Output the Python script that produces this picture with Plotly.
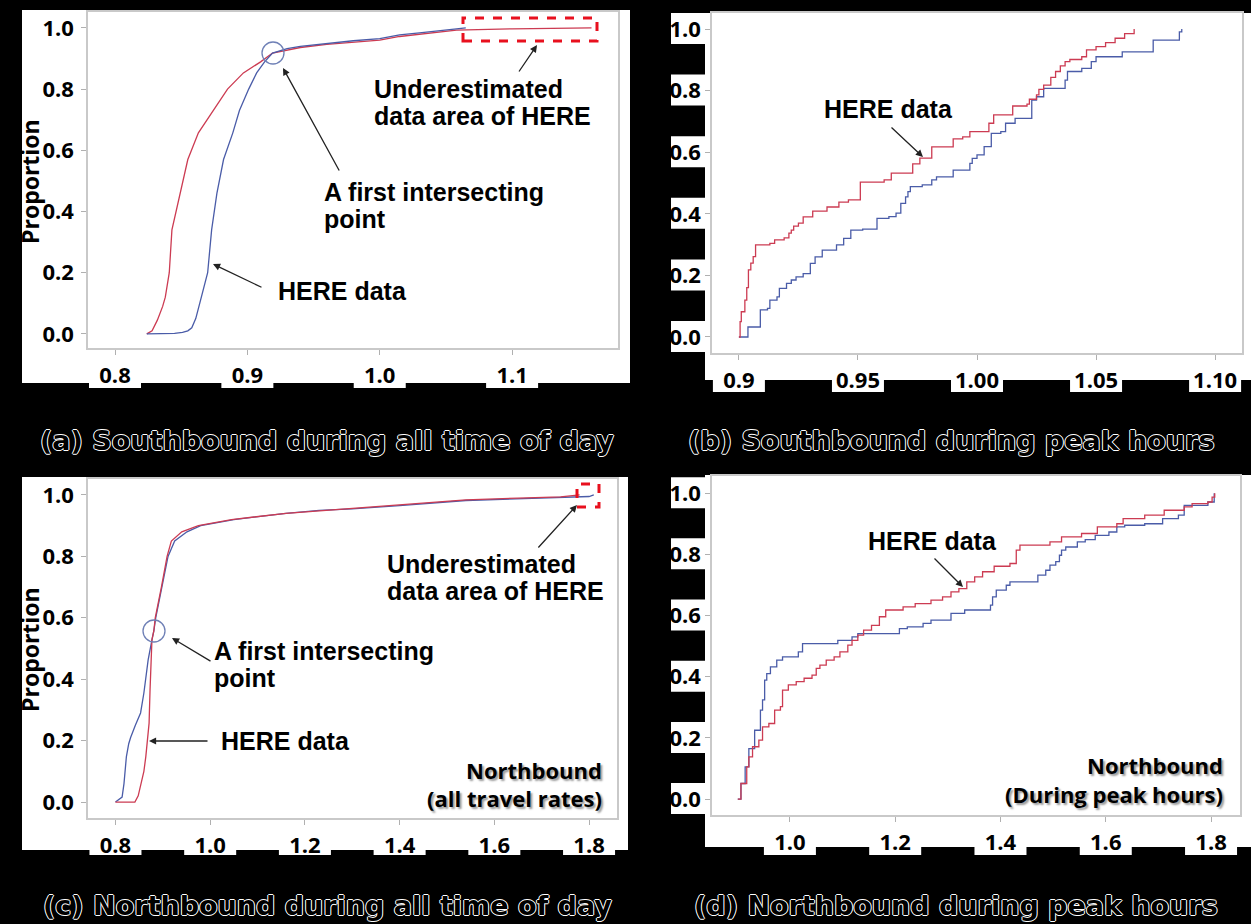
import plotly.graph_objects as go

W, H = 1251, 924

# ---------------- data ----------------
y_ticks = [0.0, 0.2, 0.4, 0.6, 0.8, 1.0]
y_tick_text = ["0.0", "0.2", "0.4", "0.6", "0.8", "1.0"]

a_xticks = [0.8, 0.9, 1.0, 1.1]
a_xtext = ["0.8", "0.9", "1.0", "1.1"]
b_xticks = [0.9, 0.95, 1.0, 1.05, 1.1]
b_xtext = ["0.9", "0.95", "1.00", "1.05", "1.10"]
c_xticks = [0.8, 1.0, 1.2, 1.4, 1.6, 1.8]
c_xtext = ["0.8", "1.0", "1.2", "1.4", "1.6", "1.8"]
d_xticks = [1.0, 1.2, 1.4, 1.6, 1.8]
d_xtext = ["1.0", "1.2", "1.4", "1.6", "1.8"]

# (a) Southbound, all time of day
a_blue_x = [0.824, 0.835, 0.845, 0.851, 0.855, 0.858, 0.861, 0.864, 0.867, 0.870, 0.873, 0.877,
            0.882, 0.889, 0.894, 0.901, 0.907, 0.913, 0.919, 0.930, 0.940, 0.960, 0.980, 1.000,
            1.015, 1.030, 1.045, 1.058, 1.065]
a_blue_y = [0.0, 0.0, 0.002, 0.005, 0.01, 0.02, 0.05, 0.10, 0.15, 0.20, 0.34, 0.46,
            0.57, 0.657, 0.73, 0.80, 0.853, 0.889, 0.918, 0.932, 0.940, 0.950, 0.958, 0.965,
            0.977, 0.984, 0.990, 0.995, 1.0]
a_red_x = [0.824, 0.828, 0.832, 0.836, 0.838, 0.841, 0.843, 0.849, 0.855, 0.863, 0.874, 0.885,
           0.897, 0.910, 0.919, 0.930, 0.940, 0.960, 0.980, 1.000, 1.015, 1.030, 1.045, 1.058,
           1.100, 1.160]
a_red_y = [0.0, 0.01, 0.045, 0.09, 0.12, 0.20, 0.34, 0.46, 0.57, 0.657, 0.73, 0.80,
           0.853, 0.889, 0.918, 0.928, 0.936, 0.946, 0.953, 0.960, 0.972, 0.980, 0.987, 0.993,
           0.997, 1.0]

# (b) Southbound, peak hours (step ECDF)
b_red_x = [0.900, 0.9005, 0.901, 0.9025, 0.9033, 0.904, 0.905, 0.906, 0.907, 0.913, 0.915, 0.919,
           0.921, 0.922, 0.923, 0.925, 0.927, 0.931, 0.937, 0.942, 0.946, 0.951, 0.961, 0.964,
           0.973, 0.976, 0.981, 0.990, 0.994, 0.997, 1.005, 1.007, 1.015, 1.021, 1.022, 1.025,
           1.026, 1.028, 1.031, 1.033, 1.035, 1.037, 1.039, 1.044, 1.046, 1.050, 1.054, 1.058,
           1.062, 1.066]
b_red_y = [0.0, 0.05, 0.082, 0.12, 0.16, 0.218, 0.24, 0.261, 0.299, 0.304, 0.315, 0.322,
           0.337, 0.347, 0.360, 0.370, 0.390, 0.409, 0.422, 0.438, 0.445, 0.503, 0.510, 0.532,
           0.562, 0.581, 0.617, 0.643, 0.650, 0.667, 0.694, 0.721, 0.750, 0.756, 0.772, 0.786,
           0.804, 0.818, 0.843, 0.862, 0.880, 0.894, 0.901, 0.910, 0.932, 0.943, 0.956, 0.970,
           0.985, 1.0]
b_blue_x = [0.900, 0.9038, 0.909, 0.912, 0.913, 0.916, 0.917, 0.920, 0.922, 0.924, 0.927, 0.930,
            0.932, 0.935, 0.941, 0.944, 0.947, 0.952, 0.958, 0.963, 0.966, 0.968, 0.970, 0.971,
            0.972, 0.977, 0.981, 0.983, 0.990, 0.997, 0.998, 1.000, 1.003, 1.006, 1.010, 1.012,
            1.016, 1.023, 1.025, 1.028, 1.037, 1.038, 1.044, 1.048, 1.050, 1.061, 1.074, 1.085,
            1.086]
b_blue_y = [0.0, 0.0325, 0.088, 0.093, 0.120, 0.130, 0.158, 0.174, 0.185, 0.195, 0.206, 0.239,
            0.260, 0.282, 0.299, 0.320, 0.347, 0.350, 0.385, 0.391, 0.402, 0.434, 0.455, 0.472,
            0.488, 0.494, 0.510, 0.520, 0.542, 0.564, 0.580, 0.591, 0.618, 0.661, 0.667, 0.694,
            0.710, 0.769, 0.780, 0.807, 0.834, 0.862, 0.872, 0.894, 0.910, 0.926, 0.964, 0.991,
            1.0]

# (c) Northbound, all time of day
c_blue_x = [0.800, 0.805, 0.814, 0.818, 0.823, 0.828, 0.832, 0.842, 0.853, 0.860, 0.864, 0.869,
            0.877, 0.881, 0.885, 0.898, 0.911, 0.925, 0.951, 0.980, 1.050, 1.160, 1.230, 1.300,
            1.400, 1.540, 1.650, 1.750, 1.800, 1.810]
c_blue_y = [0.0, 0.005, 0.016, 0.06, 0.147, 0.19, 0.21, 0.25, 0.29, 0.355, 0.40, 0.463,
            0.528, 0.557, 0.60, 0.70, 0.80, 0.85, 0.88, 0.90, 0.92, 0.94, 0.95, 0.955,
            0.965, 0.982, 0.988, 0.993, 0.995, 1.0]
c_red_x = [0.800, 0.841, 0.848, 0.853, 0.860, 0.864, 0.868, 0.871, 0.873, 0.875, 0.877, 0.881,
           0.884, 0.897, 0.909, 0.918, 0.940, 0.975, 1.045, 1.160, 1.230, 1.300, 1.400, 1.540,
           1.650, 1.740, 1.780]
c_red_y = [0.0, 0.0, 0.02, 0.05, 0.10, 0.147, 0.20, 0.257, 0.365, 0.463, 0.528, 0.557,
           0.60, 0.70, 0.80, 0.85, 0.88, 0.90, 0.92, 0.94, 0.948, 0.956, 0.967, 0.984,
           0.990, 0.994, 1.0]

# (d) Northbound, peak hours (step ECDF)
d_blue_x = [0.901, 0.907, 0.915, 0.922, 0.933, 0.944, 0.948, 0.952, 0.956, 0.963, 0.975, 0.986,
            1.016, 1.024, 1.091, 1.118, 1.129, 1.208, 1.223, 1.253, 1.268, 1.306, 1.332, 1.381,
            1.385, 1.392, 1.411, 1.418, 1.471, 1.486, 1.494, 1.505, 1.512, 1.516, 1.524, 1.546,
            1.561, 1.580, 1.606, 1.621, 1.636, 1.674, 1.708, 1.738, 1.749, 1.794, 1.806]
d_blue_y = [0.0, 0.051, 0.105, 0.165, 0.225, 0.291, 0.324, 0.389, 0.410, 0.432, 0.454, 0.465,
            0.481, 0.508, 0.519, 0.530, 0.541, 0.557, 0.563, 0.574, 0.585, 0.607, 0.618, 0.634,
            0.661, 0.683, 0.699, 0.710, 0.732, 0.748, 0.765, 0.776, 0.797, 0.814, 0.824, 0.841,
            0.848, 0.862, 0.873, 0.890, 0.895, 0.900, 0.917, 0.928, 0.960, 0.971, 1.0]
d_red_x = [0.901, 0.907, 0.918, 0.922, 0.929, 0.941, 0.948, 0.960, 0.971, 0.982, 0.986, 0.997,
           1.012, 1.027, 1.042, 1.050, 1.057, 1.069, 1.084, 1.095, 1.110, 1.118, 1.129, 1.140,
           1.155, 1.170, 1.182, 1.215, 1.238, 1.268, 1.290, 1.306, 1.321, 1.336, 1.351, 1.366,
           1.388, 1.418, 1.430, 1.437, 1.494, 1.516, 1.554, 1.584, 1.621, 1.633, 1.674, 1.711,
           1.749, 1.764, 1.794, 1.802, 1.807]
d_red_y = [0.0, 0.051, 0.105, 0.138, 0.171, 0.193, 0.236, 0.247, 0.291, 0.302, 0.356, 0.373,
           0.384, 0.395, 0.405, 0.427, 0.438, 0.454, 0.465, 0.481, 0.503, 0.519, 0.536, 0.552,
           0.568, 0.596, 0.618, 0.628, 0.639, 0.650, 0.661, 0.677, 0.688, 0.710, 0.726, 0.743,
           0.761, 0.770, 0.814, 0.830, 0.841, 0.857, 0.868, 0.890, 0.900, 0.917, 0.928, 0.944,
           0.955, 0.966, 0.971, 0.987, 1.0]

RED = "#cc3b52"
BLUE = "#4a5ca8"

# ---------------- geometry (pixels) ----------------
def px(x):
    return x / W


def py(y):
    return 1 - y / H


panels = {
    "a": dict(ax="", box=(88, 12, 618, 348), xr=(0.7796, 1.180), yr=(-0.046, 1.052),
              xt=a_xticks, xtt=a_xtext, white=(22, 10, 630, 383), tabs_bottom=388, ystand=3),
    "b": dict(ax="2", box=(712, 13, 1242, 353), xr=(0.8887, 1.1113), yr=(-0.052, 1.052),
              xt=b_xticks, xtt=b_xtext, white=(705, 13, 1251, 380), tabs_bottom=392, ystand=0),
    "c": dict(ax="3", box=(88, 479, 617, 818), xr=(0.742, 1.859), yr=(-0.052, 1.052),
              xt=c_xticks, xtt=c_xtext, white=(22, 477, 628, 850), tabs_bottom=855, ystand=3),
    "d": dict(ax="4", box=(712, 476, 1240, 815), xr=(0.852, 1.855), yr=(-0.052, 1.056),
              xt=d_xticks, xtt=d_xtext, white=(705, 475, 1251, 847), tabs_bottom=855, ystand=0),
}

fig = go.Figure()

series = {
    "a": [(a_red_x, a_red_y, RED, "linear"), (a_blue_x, a_blue_y, BLUE, "linear")],
    "b": [(b_blue_x, b_blue_y, BLUE, "hv"), (b_red_x, b_red_y, RED, "hv")],
    "c": [(c_blue_x, c_blue_y, BLUE, "linear"), (c_red_x, c_red_y, RED, "linear")],
    "d": [(d_blue_x, d_blue_y, BLUE, "hv"), (d_red_x, d_red_y, RED, "hv")],
}

tick_font = dict(family="Open Sans", size=22, color="black", weight=700)
shapes = []
layout_axes = {}

for key, p in panels.items():
    sfx = p["ax"]
    x0, y0, x1, y1 = p["box"]
    for xs, ys, col, shp in series[key]:
        fig.add_trace(go.Scatter(x=xs, y=ys, mode="lines",
                                 line=dict(color=col, width=1.3, shape=shp),
                                 xaxis="x" + sfx, yaxis="y" + sfx,
                                 showlegend=False, hoverinfo="skip"))
    common = dict(showline=True, mirror=True, linecolor="#c9c9c9", linewidth=1.5,
                  showgrid=False, zeroline=False, ticks="outside", ticklen=5,
                  tickcolor="#b0b0b0", tickwidth=1, tickfont=tick_font)
    layout_axes["xaxis" + sfx] = dict(common, domain=[px(x0), px(x1)], range=list(p["xr"]),
                                      anchor="y" + sfx, tickvals=p["xt"], ticktext=p["xtt"],
                                      ticklabelstandoff=2)
    layout_axes["yaxis" + sfx] = dict(common, domain=[py(y1), py(y0)], range=list(p["yr"]),
                                      anchor="x" + sfx, tickvals=y_ticks, ticktext=y_tick_text,
                                      ticklabelstandoff=p["ystand"])
    # white panel background
    wx0, wy0, wx1, wy1 = p["white"]
    shapes.append(dict(type="rect", xref="paper", yref="paper", layer="below",
                       x0=px(wx0), x1=px(wx1), y0=py(wy1), y1=py(wy0),
                       fillcolor="white", line=dict(width=0)))
    # white tabs behind x tick labels
    for v in p["xt"]:
        tx = x0 + (v - p["xr"][0]) / (p["xr"][1] - p["xr"][0]) * (x1 - x0)
        shapes.append(dict(type="rect", xref="paper", yref="paper", layer="below",
                           x0=px(tx - 26), x1=px(tx + 26), y0=py(p["tabs_bottom"]), y1=py(wy1 - 20),
                           fillcolor="white", line=dict(width=0)))
    # white boxes behind y tick labels (right-hand panels)
    if key in ("b", "d"):
        for v in y_ticks:
            ty = y1 - (v - p["yr"][0]) / (p["yr"][1] - p["yr"][0]) * (y1 - y0)
            shapes.append(dict(type="rect", xref="paper", yref="paper", layer="below",
                               x0=px(671), x1=px(712), y0=py(ty + 15), y1=py(max(ty - 16, wy0)),
                               fillcolor="white", line=dict(width=0)))

# circles marking intersections
for cx, cy in [(273, 53), (154, 631)]:
    shapes.append(dict(type="circle", xref="paper", yref="paper",
                       x0=px(cx - 11), x1=px(cx + 11), y0=py(cy + 11), y1=py(cy - 11),
                       line=dict(color="#6f80b6", width=1.3)))
# red dashed rectangles
for rx0, ry0, rx1, ry1 in [(463, 18, 597, 41), (577, 484, 599, 507)]:
    shapes.append(dict(type="rect", xref="paper", yref="paper",
                       x0=px(rx0), x1=px(rx1), y0=py(ry1), y1=py(ry0),
                       line=dict(color="#e8101e", width=3, dash="dash")))

annotations = []

# captions (outlined text: black fill, thin white outline)
outline = "1px 0 0 #fff, -1px 0 0 #fff, 0 1px 0 #fff, 0 -1px 0 #fff"
cap_font = dict(family="DejaVu Sans", size=27, color="black", weight=700, shadow=outline)
for txt, cx, cy in [("(a) Southbound during all time of day", 327, 440),
                    ("(b) Southbound during peak hours", 951, 440),
                    ("(c) Northbound during all time of day", 327, 905),
                    ("(d) Northbound during peak hours", 956, 905)]:
    annotations.append(dict(text=txt, x=px(cx), y=py(cy), xref="paper", yref="paper",
                            xanchor="center", yanchor="middle", showarrow=False, font=cap_font))

# y-axis titles
for cy in [182, 650]:
    annotations.append(dict(text="Proportion", x=px(30), y=py(cy), xref="paper", yref="paper",
                            textangle=-90, xanchor="center", yanchor="middle", showarrow=False,
                            font=dict(family="Open Sans", size=23, color="black", weight=700)))

note_font = dict(family="Liberation Sans", size=25, color="black", weight=700)
for txt, lx, ly in [("Underestimated", 372, 89), ("data area of HERE", 372, 116),
                    ("A first intersecting", 322, 192), ("point", 322, 219),
                    ("HERE data", 276, 291),
                    ("HERE data", 822, 109),
                    ("Underestimated", 385, 564), ("data area of HERE", 385, 591),
                    ("A first intersecting", 212, 651), ("point", 212, 678),
                    ("HERE data", 219, 741),
                    ("HERE data", 866, 541)]:
    annotations.append(dict(text=txt, x=px(lx), y=py(ly), xref="paper", yref="paper",
                            xanchor="left", yanchor="middle", showarrow=False, font=note_font))

nb_font = dict(family="Open Sans", size=22, color="black", weight=700,
               shadow="2px 2px 2px #9a9a9a")
for txt, rx, ry in [("Northbound", 604, 770), ("(all travel rates)", 604, 798),
                    ("Northbound", 1225, 765), ("(During peak hours)", 1225, 794)]:
    annotations.append(dict(text=txt, x=px(rx), y=py(ry), xref="paper", yref="paper",
                            xanchor="right", yanchor="middle", showarrow=False, font=nb_font))

# arrows: (head_x, head_y, tail_x, tail_y)
for hx, hy, tx, ty in [(283, 68, 340, 172), (213, 264, 263, 288), (537, 45, 518, 73),
                       (923, 157, 890, 126),
                       (172, 638, 212, 662), (149, 741, 209, 741), (577, 505, 537, 549),
                       (963, 587, 933, 557)]:
    annotations.append(dict(text="", x=px(hx), y=py(hy), xref="paper", yref="paper",
                            ax=tx - hx, ay=ty - hy, showarrow=True, arrowhead=2,
                            arrowsize=1.1, arrowwidth=1.3, arrowcolor="#222222"))

fig.update_layout(width=W, height=H, autosize=False,
                  margin=dict(l=0, r=0, t=0, b=0),
                  paper_bgcolor="black", plot_bgcolor="white",
                  shapes=shapes, annotations=annotations, showlegend=False,
                  **layout_axes)

fig.write_html("out.html")
